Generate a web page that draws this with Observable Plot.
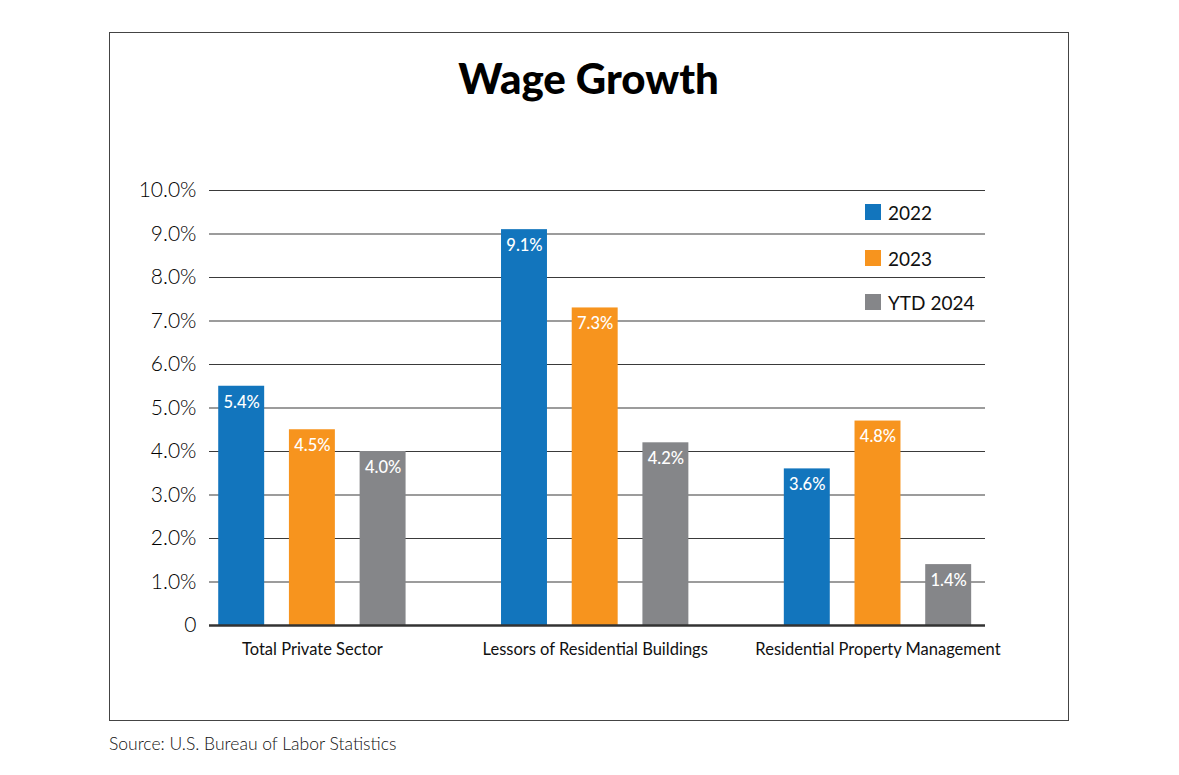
<!DOCTYPE html>
<html>
<head>
<meta charset="utf-8">
<script src="https://cdn.jsdelivr.net/npm/d3@7"></script>
<script src="https://cdn.jsdelivr.net/npm/@observablehq/plot@0.6"></script>
<style>
  body { margin: 0; background: #fff; font-family: Lato, "Open Sans", sans-serif; }
  #page { position: relative; width: 1179px; height: 775px; overflow: hidden; background: #fff; }
  #frame { position: absolute; left: 109px; top: 32px; width: 958px; height: 687px; border: 1px solid #444; }
  #title { position: absolute; left: 0; top: 53px; width: 1177px; text-align: center; font-family: Lato, sans-serif; font-weight: 900; font-size: 42px; color: #000; letter-spacing: 0; }
  #chart { position: absolute; left: 0; top: 120px; }
  #legend { position: absolute; left: 865px; top: 0; }
  .row { position: absolute; left: 0; height: 24px; display: flex; align-items: center; white-space: nowrap; }
  .sw { width: 16px; height: 16px; margin-right: 7px; }
  .lab { font-size: 19px; font-weight: 400; color: #111; }
  #source { position: absolute; left: 109px; top: 733px; font-size: 17.5px; font-weight: 300; color: #111; }
</style>
</head>
<body>
<div id="page">
  <div id="frame"></div>
  <div id="title">Wage Growth</div>
  <div id="chart"></div>
  <div id="legend"></div>
  <div id="source">Source: U.S. Bureau of Labor Statistics</div>
</div>
<script>
// ---- Data ----
const categories = ["Total Private Sector", "Lessors of Residential Buildings", "Residential Property Management"];
const series = ["2022", "2023", "YTD 2024"];
const seriesColors = ["#1275bd", "#f7941e", "#858689"];
// bar heights as drawn (%)
const values2022 = [5.5, 9.1, 3.6];
const values2023 = [4.5, 7.3, 4.7];
const valuesYTD2024 = [4.0, 4.2, 1.4];
// printed value labels
const labels2022 = ["5.4%", "9.1%", "3.6%"];
const labels2023 = ["4.5%", "7.3%", "4.8%"];
const labelsYTD2024 = ["4.0%", "4.2%", "1.4%"];
const yTicks = [0, 1, 2, 3, 4, 5, 6, 7, 8, 9, 10];
const yTickLabels = ["0", "1.0%", "2.0%", "3.0%", "4.0%", "5.0%", "6.0%", "7.0%", "8.0%", "9.0%", "10.0%"];

// ---- Build table ----
const seriesValues = [values2022, values2023, valuesYTD2024];
const seriesLabels = [labels2022, labels2023, labelsYTD2024];
const rows = [];
const xDomain = [];
categories.forEach((c, ci) => {
  series.forEach((s, si) => {
    const key = ci + "|" + si;
    xDomain.push(key);
    rows.push({key, category: c, series: s, value: seriesValues[si][ci], label: seriesLabels[si][ci]});
  });
  if (ci < categories.length - 1) xDomain.push("gap" + ci);
});
const centerKeys = categories.map((c, ci) => ci + "|1");

const chart = Plot.plot({
  width: 1179,
  height: 580,
  marginLeft: 209,
  marginRight: 194,
  marginTop: 70,
  marginBottom: 75,
  style: {fontFamily: "Lato, 'Open Sans', sans-serif", background: "transparent", color: "#111"},
  x: {type: "band", domain: xDomain, paddingInner: 0.35, paddingOuter: 0.163, align: 0.4, round: false},
  y: {domain: [0, 10]},
  color: {domain: series, range: seriesColors},
  marks: [
    Plot.gridY({ticks: yTicks.filter(d => d > 0), stroke: "#3a3a3a", strokeOpacity: 1, strokeWidth: 1.2}),
    Plot.barY(rows, {x: "key", y: "value", fill: "series"}),
    Plot.ruleY([0], {stroke: "#333", strokeWidth: 2.5}),
    Plot.text(rows, {x: "key", y: "value", text: "label", dy: 16, fill: "white", fontSize: 16.5, fontWeight: 500}),
    Plot.axisY({ticks: yTicks, tickFormat: d => yTickLabels[yTicks.indexOf(d)], tickSize: 0, tickPadding: 13, fontSize: 21, fontWeight: 300, fill: "#000", label: null}),
    Plot.axisX({ticks: centerKeys, tickFormat: k => categories[+k.split("|")[0]], tickSize: 0, tickPadding: 18, fontSize: 16.5, fontWeight: 400, fill: "#111", label: null})
  ]
});
document.getElementById("chart").appendChild(chart);

// ---- Legend ----
const legendCenters = [212, 258, 302];
const legend = document.getElementById("legend");
series.forEach((s, i) => {
  const row = document.createElement("div");
  row.className = "row";
  row.style.top = (legendCenters[i] - 12) + "px";
  const sw = document.createElement("div");
  sw.className = "sw";
  sw.style.background = seriesColors[i];
  const lab = document.createElement("span");
  lab.className = "lab";
  lab.textContent = s;
  row.appendChild(sw);
  row.appendChild(lab);
  legend.appendChild(row);
});
</script>
</body>
</html>
